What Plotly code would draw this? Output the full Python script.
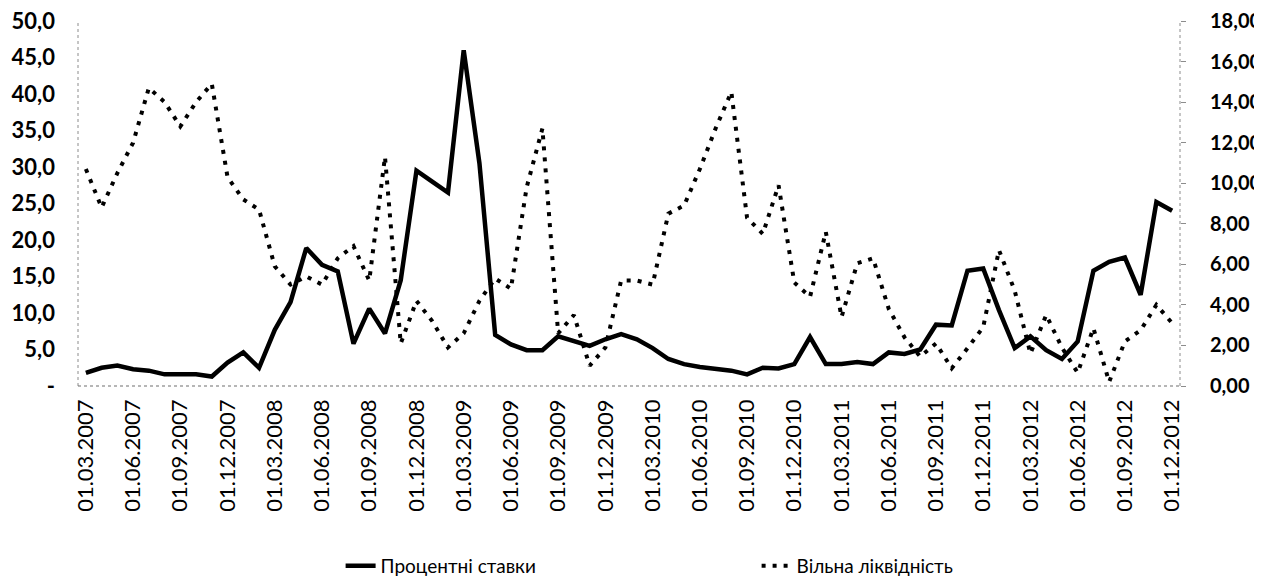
import pandas as pd
import plotly.graph_objects as go

# categories: monthly dates 01.03.2007 .. 01.12.2012
dates = [d.strftime("%d.%m.%Y") for d in pd.date_range("2007-03-01", "2012-12-01", freq="MS")]

interest_rates = [
    1.8, 2.5, 2.8, 2.3, 2.1, 1.6, 1.6, 1.6, 1.3, 3.2,
    4.6, 2.5, 7.7, 11.5, 18.9, 16.6, 15.7, 5.8, 10.6, 7.2,
    14.5, 29.5, 28.0, 26.5, 46.0, 30.5, 7.0, 5.7, 4.9, 4.9,
    6.8, 6.1, 5.5, 6.4, 7.1, 6.4, 5.2, 3.7, 3.0, 2.6,
    2.4, 2.1, 1.6, 2.5, 2.4, 3.0, 6.7, 3.0, 3.0, 3.3,
    3.0, 4.6, 4.4, 5.0, 8.4, 8.3, 15.8, 16.1, 10.4, 5.2,
    6.8, 4.9, 3.7, 6.1, 15.8, 17.0, 17.6, 12.5, 25.2, 24.0,
]

free_liquidity = [
    10.7, 8.8, 10.5, 12.0, 14.7, 14.0, 12.8, 14.0, 14.9, 10.3,
    9.2, 8.7, 5.9, 5.0, 5.4, 5.0, 6.3, 6.9, 5.2, 11.3,
    2.1, 4.2, 3.2, 1.9, 2.6, 4.2, 5.3, 4.8, 9.8, 12.7,
    2.6, 3.5, 1.0, 1.9, 5.2, 5.2, 5.0, 8.5, 8.9, 10.7,
    12.7, 14.5, 8.3, 7.5, 9.9, 5.1, 4.4, 7.6, 3.4, 6.05,
    6.3, 3.8, 2.4, 1.45, 2.1, 0.87, 1.86, 2.9, 6.7, 4.7,
    1.6, 3.5, 1.9, 0.65, 2.85, 0.2, 2.2, 2.75, 4.0, 3.1,
]

left_ticks = [0, 5, 10, 15, 20, 25, 30, 35, 40, 45, 50]
left_ticktext = ["-", "5,0", "10,0", "15,0", "20,0", "25,0", "30,0", "35,0", "40,0", "45,0", "50,0"]
right_ticks = [0, 2, 4, 6, 8, 10, 12, 14, 16, 18]
right_ticktext = ["0,00", "2,00", "4,00", "6,00", "8,00", "10,00", "12,00", "14,00", "16,00", "18,00"]
x_ticks = dates[::3]

FONT = "Lato"

fig = go.Figure()
fig.add_trace(go.Scatter(
    x=dates, y=interest_rates, name="Процентні ставки", mode="lines",
    line=dict(color="black", width=4.5), yaxis="y",
))
fig.add_trace(go.Scatter(
    x=dates, y=free_liquidity, name="Вільна ліквідність", mode="lines",
    line=dict(color="black", width=4, dash="4px,7px"), yaxis="y2",
))

# the page body has an 8px margin, so the figure is sized to fit inside it
fig.update_layout(
    width=1254, height=571,
    margin=dict(l=70, r=82, t=13, b=193, autoexpand=False),
    paper_bgcolor="white", plot_bgcolor="white",
    font=dict(family=FONT, size=20, color="black"),
    showlegend=True,
    legend=dict(
        orientation="h", x=0.2383, xanchor="left", y=-0.493, yanchor="middle",
        font=dict(family=FONT, size=19, color="black"),
        entrywidth=371, entrywidthmode="pixels",
    ),
    xaxis=dict(
        type="category", categoryorder="array", categoryarray=dates,
        range=[-0.5, len(dates) - 0.5], automargin=False,
        tickmode="array", tickvals=x_ticks, ticktext=x_ticks,
        tickangle=-90, showgrid=False, zeroline=False, showline=False,
        ticks="", tickfont=dict(family=FONT, size=22, color="black"),
        ticklabelstandoff=8, ticklabeloverflow="allow",
    ),
    yaxis=dict(
        range=[0, 50], tickmode="array", tickvals=left_ticks, ticktext=left_ticktext,
        showgrid=False, zeroline=False, showline=False, ticks="",
        tickfont=dict(family=FONT, size=22, color="black", weight="bold"),
        automargin=False, ticklabelstandoff=22, ticklabeloverflow="allow",
    ),
    yaxis2=dict(
        range=[0, 18], overlaying="y", side="right",
        tickmode="array", tickvals=right_ticks, ticktext=right_ticktext,
        showgrid=False, zeroline=False, showline=False, automargin=False,
        ticks="outside", ticklen=5, tickcolor="#8c8c8c", tickwidth=1,
        tickfont=dict(family=FONT, size=20, color="black", weight="bold"),
        ticklabelstandoff=20, ticklabeloverflow="allow",
    ),
    shapes=[
        dict(type="line", xref="paper", yref="paper", x0=0, x1=0, y0=0, y1=1,
             line=dict(color="#8c8c8c", width=1, dash="dot")),
        dict(type="line", xref="paper", yref="paper", x0=1, x1=1, y0=0, y1=1,
             line=dict(color="#8c8c8c", width=1, dash="dot")),
        dict(type="line", xref="paper", yref="paper", x0=0, x1=1, y0=0, y1=0,
             line=dict(color="#6e6e6e", width=1.2, dash="dot")),
    ],
)

fig.write_html("out.html")
